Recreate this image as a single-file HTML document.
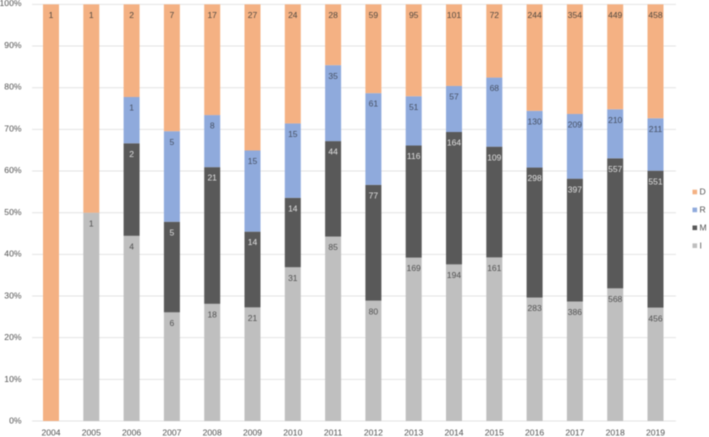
<!DOCTYPE html>
<html lang="en">
<head>
<meta charset="utf-8">
<title>Stacked percentage chart by year</title>
<style>
  html, body { margin: 0; padding: 0; background: #fff; }
  body { width: 709px; height: 437px; overflow: hidden; }
  svg { display: block; font-family: "Liberation Sans", sans-serif; filter: blur(0.4px); }
</style>
</head>
<body>
<svg id="chart" width="709" height="437" viewBox="0 0 709 437" xmlns="http://www.w3.org/2000/svg"></svg>
<script>
const years = ['2004','2005','2006','2007','2008','2009','2010','2011','2012','2013','2014','2015','2016','2017','2018','2019'];
const valuesI = [0,1,4,6,18,21,31,85,80,169,194,161,283,386,568,456];
const valuesM = [0,0,2,5,21,14,14,44,77,116,164,109,298,397,557,551];
const valuesR = [0,0,1,5,8,15,15,35,61,51,57,68,130,209,210,211];
const valuesD = [1,1,2,7,17,27,24,28,59,95,101,72,244,354,449,458];
const yTicks = [0,10,20,30,40,50,60,70,80,90,100];
const seriesNames = ['I','M','R','D'];
const legendOrder = ['D','R','M','I'];

const seriesValues = { I: valuesI, M: valuesM, R: valuesR, D: valuesD };
const seriesFill = { I: '#BFBFBF', M: '#595959', R: '#8FAADC', D: '#F4B183' };
const seriesLabelColor = { I: '#505050', M: '#e2e2e2', R: '#454f62', D: '#504840' };

const NS = 'http://www.w3.org/2000/svg';
const svg = document.getElementById('chart');
const plotLeft = 32, plotRight = 676, plotTop = 4.4, plotBottom = 421;
const firstCenter = 51, bandStep = 40.3, barWidth = 16;

function xScale(i) { return firstCenter + bandStep * i; }
function yScale(pct) { return plotBottom - (plotBottom - plotTop) * pct / 100; }
function yLabelPos(pct) { return 420.5 - (420.5 - 3.2) * pct / 100; }

function make(tag, attrs, text) {
  const el = document.createElementNS(NS, tag);
  for (const k in attrs) el.setAttribute(k, attrs[k]);
  if (text !== undefined) el.textContent = text;
  svg.appendChild(el);
  return el;
}

yTicks.forEach(function (t) {
  const line = make('line', { x1: plotLeft, x2: plotRight, y1: yScale(t), y2: yScale(t), stroke: '#E4E4E4', 'stroke-width': 1 });
  
  
  const label = make('text', { x: 21.5, y: yLabelPos(t), 'text-anchor': 'end', 'dominant-baseline': 'central', 'font-size': 8.6, fill: '#505050' }, t + '%');
  
  
});

years.forEach(function (year, i) {
  const total = seriesNames.reduce(function (sum, s) { return sum + seriesValues[s][i]; }, 0);
  let cumulative = 0;
  const labels = [];
  seriesNames.forEach(function (s) {
    const v = seriesValues[s][i];
    if (v === 0) return;
    const y0 = yScale(cumulative / total * 100);
    cumulative += v;
    const y1 = yScale(cumulative / total * 100);
    const rect = make('rect', { x: xScale(i) - barWidth / 2, y: y1, width: barWidth, height: y0 - y1, fill: seriesFill[s] });
    
    
    labels.push({ s: s, v: v, y: y1 + 10.6 });
  });
  labels.forEach(function (l) {
    const t = make('text', { x: xScale(i), y: l.y, 'text-anchor': 'middle', 'dominant-baseline': 'central', 'font-size': 8.5, fill: seriesLabelColor[l.s] }, l.v);
    
    
  });
  const xl = make('text', { x: xScale(i), y: 432.7, 'text-anchor': 'middle', 'dominant-baseline': 'central', 'font-size': 8.6, fill: '#505050' }, year);
  
  
});

legendOrder.forEach(function (s, i) {
  const cy = 192 + 17.9 * i;
  const sw = make('rect', { x: 692.5, y: cy - 2.3, width: 4.6, height: 4.6, fill: seriesFill[s] });
  
  
  const t = make('text', { x: 699.5, y: cy - 0.4, 'dominant-baseline': 'central', 'font-size': 8.6, fill: '#505050' }, s);
  
  
});
</script>
</body>
</html>
